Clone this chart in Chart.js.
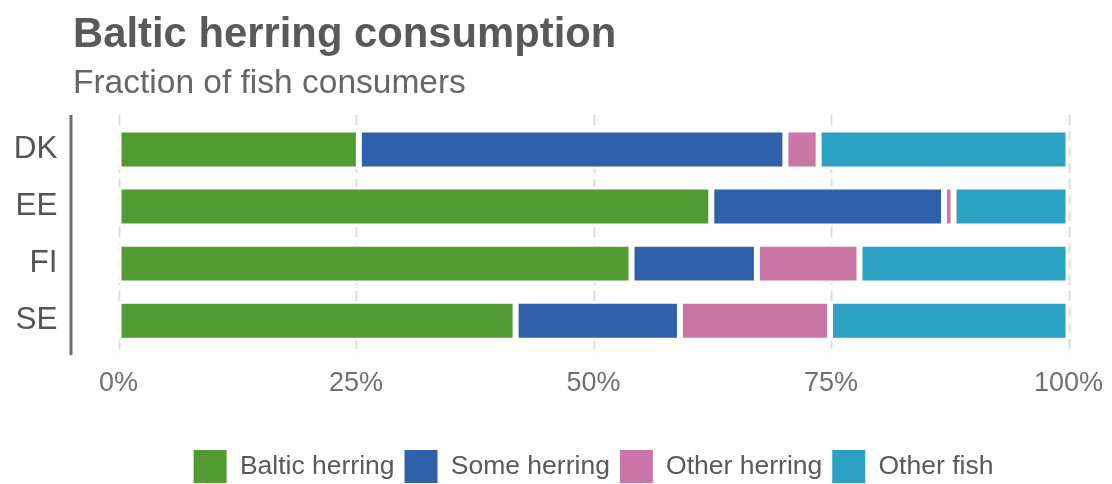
<!DOCTYPE html>
<html>
<head>
<meta charset="utf-8">
<script src="https://cdn.jsdelivr.net/npm/chart.js@4/dist/chart.umd.min.js"></script>
<style>
  html, body { margin: 0; padding: 0; background: #fff; }
  #wrap { width: 1112px; height: 484px; }
</style>
</head>
<body>
<div id="wrap"><canvas id="myChart" width="1112" height="484"></canvas></div>
<script>
// share of fish consumers per country (%)
const countries = ["DK", "EE", "FI", "SE"];
const balticHerring = [25.3, 62.4, 54.0, 41.8];
const someHerring = [44.9, 24.5, 13.2, 17.3];
const otherHerring = [3.5, 1.0, 10.8, 15.8];
const otherFish = [26.3, 12.1, 22.0, 25.1];
const xTicks = [0, 25, 50, 75, 100];

const FONT = "'Liberation Sans', Arial, sans-serif";

const series = [
  { label: "Baltic herring", values: balticHerring, color: "#529b30" },
  { label: "Some herring", values: someHerring, color: "#2f61ab" },
  { label: "Other herring", values: otherHerring, color: "#cc76a8" },
  { label: "Other fish", values: otherFish, color: "#2aa1c3" },
];

const data = {
  labels: countries,
  datasets: series.map((s) => {
    return {
      label: s.label,
      data: s.values,
      backgroundColor: s.color,
      borderColor: "#ffffff",
      borderWidth: 3,
      borderSkipped: false,
      barPercentage: 0.7,
      categoryPercentage: 1,
    };
  }),
};

// title, subtitle, dashed grid and the left axis rule
const decorations = {
  id: "decorations",
  beforeDatasetsDraw(chart) {
    const { ctx, chartArea, scales } = chart;
    const top = chartArea.top - 6;
    const bottom = chartArea.bottom + 6;
    ctx.save();
    ctx.strokeStyle = "#dddddd";
    ctx.lineWidth = 2;
    ctx.setLineDash([10, 6]);
    xTicks.forEach((t) => {
      const x = Math.round(scales.x.getPixelForValue(t)) + 0.5;
      ctx.beginPath();
      ctx.moveTo(x, top);
      ctx.lineTo(x, bottom);
      ctx.stroke();
    });
    ctx.setLineDash([]);
    ctx.strokeStyle = "#6e6e6e";
    ctx.lineWidth = 3;
    ctx.beginPath();
    ctx.moveTo(71, top);
    ctx.lineTo(71, bottom);
    ctx.stroke();
    ctx.restore();
  },
  afterDraw(chart) {
    const { ctx } = chart;
    ctx.save();
    ctx.textAlign = "left";
    ctx.textBaseline = "alphabetic";
    ctx.fillStyle = "#595959";
    ctx.font = "bold 41.8px " + FONT;
    ctx.fillText("Baltic herring consumption", 73, 47);
    ctx.fillStyle = "#666666";
    ctx.font = "33.5px " + FONT;
    ctx.fillText("Fraction of fish consumers", 73, 93);
    ctx.restore();
  },
};

const config = {
  type: "bar",
  data,
  options: {
    indexAxis: "y",
    responsive: false,
    animation: false,
    layout: {
      padding: { top: 121, left: 0, right: 43.5, bottom: -9 },
    },
    scales: {
      x: {
        stacked: true,
        min: 0,
        max: 100,
        grid: { display: false, drawTicks: false },
        border: { display: false },
        afterFit(scale) {
          scale.height = 90.8;
          scale.paddingLeft = 0;
          scale.paddingRight = 0;
        },
        afterBuildTicks(scale) {
          scale.ticks = xTicks.map((v) => ({ value: v }));
        },
        ticks: {
          padding: 18,
          color: "#707070",
          font: { family: FONT, size: 27 },
          callback: (v) => v + "%",
        },
      },
      y: {
        stacked: true,
        grid: { display: false, drawTicks: false },
        border: { display: false },
        afterFit(scale) {
          scale.width = 118.5;
        },
        ticks: {
          padding: 61,
          color: "#555555",
          font: { family: FONT, size: 31.5 },
        },
      },
    },
    plugins: {
      legend: {
        position: "bottom",
        fullSize: false,
        labels: {
          boxWidth: 33,
          boxHeight: 33,
          padding: 10,
          color: "#595959",
          font: { family: FONT, size: 26.5 },
          generateLabels(chart) {
            return Chart.defaults.plugins.legend.labels
              .generateLabels(chart)
              .map((item) => {
                item.lineWidth = 0;
                item.strokeStyle = item.fillStyle;
                return item;
              });
          },
        },
      },
      tooltip: { enabled: false },
    },
  },
  plugins: [decorations],
};

const myChart = new Chart(document.getElementById("myChart"), config);
</script>
</body>
</html>
